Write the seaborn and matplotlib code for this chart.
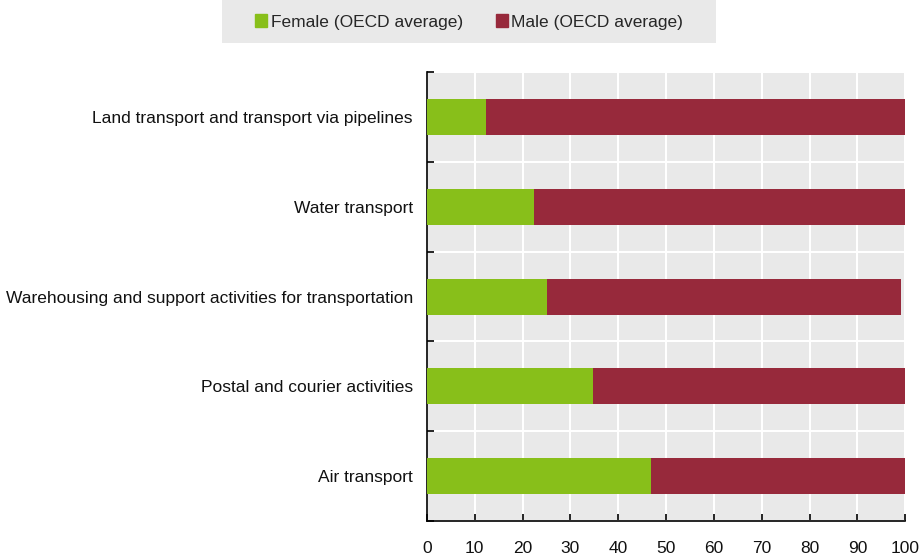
import matplotlib
matplotlib.use("Agg")
import matplotlib.pyplot as plt
import matplotlib.patches as mpatches
import seaborn as sns
import pandas as pd

categories = [
    "Land transport and transport via pipelines",
    "Water transport",
    "Warehousing and support activities for transportation",
    "Postal and courier activities",
    "Air transport",
]
female = [12.4, 22.4, 25.1, 34.8, 46.9]
male = [87.6, 77.6, 74.0, 65.2, 53.1]
x_ticks = [0, 10, 20, 30, 40, 50, 60, 70, 80, 90, 100]

GREEN = "#88bf1a"
MAROON = "#97293b"
BG = "#e9e9e9"

sns.set_theme(style="white")
plt.rcParams["font.family"] = ["Liberation Sans", "DejaVu Sans"]

df = pd.DataFrame({"category": categories, "female": female, "male": male})
df["total"] = df["female"] + df["male"]

W, H = 920, 558
fig = plt.figure(figsize=(W / 100, H / 100), dpi=100)
ax = fig.add_axes([0.464, 0.066, 0.52, 0.805])
ax.set_facecolor(BG)

sns.barplot(data=df, y="category", x="total", color=MAROON, orient="h",
            width=0.4, ax=ax, saturation=1, linewidth=0, zorder=3)
sns.barplot(data=df, y="category", x="female", color=GREEN, orient="h",
            width=0.4, ax=ax, saturation=1, linewidth=0, zorder=3)

ax.set_xlim(0, 100)
ax.set_ylim(len(categories) - 0.5, -0.5)
ax.set_xticks(x_ticks)
ax.set_xticklabels([str(t) for t in x_ticks], fontsize=12.5, color="#111111")
ax.set_yticks(range(len(categories)))
ax.set_yticklabels(categories, fontsize=12.5, color="#111111")
ax.tick_params(axis="y", which="major", length=0, pad=10)
ax.set_yticks([i - 0.5 for i in range(len(categories) + 1)], minor=True)
ax.tick_params(axis="y", which="minor", direction="in", length=5, width=1.2, color="black", left=True)
ax.tick_params(axis="x", which="major", direction="in", length=5, width=1.2, color="black", bottom=True, pad=14)

ax.set_axisbelow(True)
ax.grid(axis="x", which="major", color="white", linewidth=1.5)
ax.grid(axis="y", which="minor", color="white", linewidth=1.5)
ax.grid(axis="y", which="major", visible=False)
ax.set_xlabel("")
ax.set_ylabel("")

for side in ["top", "right"]:
    ax.spines[side].set_visible(False)
for side in ["left", "bottom"]:
    ax.spines[side].set_color("black")
    ax.spines[side].set_linewidth(1.2)

# legend panel across the top
fig.patches.append(mpatches.Rectangle((222 / W, 1 - 43 / H), 494 / W, 43 / H,
                                      transform=fig.transFigure, facecolor=BG,
                                      edgecolor="none", zorder=0))
handles = [mpatches.Patch(color=GREEN, label="Female (OECD average)"),
           mpatches.Patch(color=MAROON, label="Male (OECD average)")]
leg = fig.legend(handles=handles, loc="center", bbox_to_anchor=(469 / W, 1 - 22 / H),
                 ncol=2, frameon=False, fontsize=12.5, handlelength=0.7, handleheight=0.7,
                 handletextpad=0.2, columnspacing=1.9)

fig.savefig("out.png", dpi=100)
